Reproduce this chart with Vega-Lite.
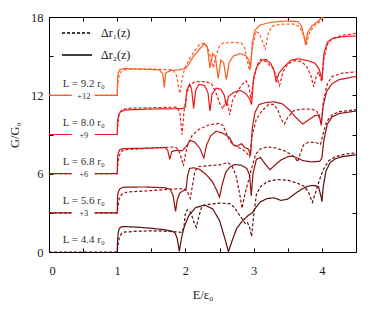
{
"$schema": "https://vega.github.io/schema/vega-lite/v6.json",
"width": 307, "height": 235,
"autosize": {"type": "none"},
"padding": {"left": 49, "top": 17, "right": 18, "bottom": 59},
"config": {
  "font": "Liberation Serif",
  "view": {"stroke": null},
  "axis": {"domainColor": "#000", "domainWidth": 1, "tickColor": "#000", "tickSize": -4, "grid": false, "labelFont": "Liberation Serif", "labelFontSize": 12.5, "labelColor": "#222", "titleFont": "Liberation Serif", "titleFontSize": 12.5, "titleFontWeight": "normal", "titleColor": "#222"}
},
"datasets": {
"curves": [
{"L":"4.4","dr":2,"seg":"b","E":1.0,"G":0},{"L":"4.4","dr":2,"seg":"b","E":1.005,"G":0.9},{"L":"4.4","dr":2,"seg":"b","E":1.015,"G":1.5},{"L":"4.4","dr":2,"seg":"b","E":1.03,"G":1.8},{"L":"4.4","dr":2,"seg":"b","E":1.06,"G":1.92},{"L":"4.4","dr":2,"seg":"b","E":1.1,"G":1.95},{"L":"4.4","dr":2,"seg":"b","E":1.3,"G":1.9},{"L":"4.4","dr":2,"seg":"b","E":1.5,"G":1.82},{"L":"4.4","dr":2,"seg":"b","E":1.7,"G":1.7},{"L":"4.4","dr":2,"seg":"b","E":1.8,"G":1.6},{"L":"4.4","dr":2,"seg":"b","E":1.85,"G":1.45},{"L":"4.4","dr":2,"seg":"b","E":1.88,"G":1.0},{"L":"4.4","dr":2,"seg":"b","E":1.91,"G":0.05},{"L":"4.4","dr":2,"seg":"b","E":1.94,"G":1.0},{"L":"4.4","dr":2,"seg":"b","E":1.98,"G":1.9},{"L":"4.4","dr":2,"seg":"b","E":2.05,"G":2.8},{"L":"4.4","dr":2,"seg":"b","E":2.15,"G":3.4},{"L":"4.4","dr":2,"seg":"b","E":2.28,"G":3.6},{"L":"4.4","dr":2,"seg":"b","E":2.4,"G":3.3},{"L":"4.4","dr":2,"seg":"b","E":2.5,"G":2.4},{"L":"4.4","dr":2,"seg":"b","E":2.58,"G":1.0},{"L":"4.4","dr":2,"seg":"b","E":2.63,"G":0.02},{"L":"4.4","dr":2,"seg":"b","E":2.68,"G":0.8},{"L":"4.4","dr":2,"seg":"b","E":2.75,"G":1.8},{"L":"4.4","dr":2,"seg":"b","E":2.83,"G":2.35},{"L":"4.4","dr":2,"seg":"b","E":2.92,"G":2.8},{"L":"4.4","dr":2,"seg":"b","E":2.98,"G":3.0},{"L":"4.4","dr":2,"seg":"b","E":3.03,"G":3.4},{"L":"4.4","dr":2,"seg":"b","E":3.1,"G":3.85},{"L":"4.4","dr":2,"seg":"b","E":3.2,"G":4.1},{"L":"4.4","dr":2,"seg":"b","E":3.3,"G":4.15},{"L":"4.4","dr":2,"seg":"b","E":3.4,"G":3.95},{"L":"4.4","dr":2,"seg":"b","E":3.5,"G":4.05},{"L":"4.4","dr":2,"seg":"b","E":3.6,"G":4.45},{"L":"4.4","dr":2,"seg":"b","E":3.7,"G":4.8},{"L":"4.4","dr":2,"seg":"b","E":3.8,"G":5.05},{"L":"4.4","dr":2,"seg":"b","E":3.88,"G":5.1},{"L":"4.4","dr":2,"seg":"b","E":3.95,"G":5.0},{"L":"4.4","dr":2,"seg":"b","E":3.99,"G":4.2},{"L":"4.4","dr":2,"seg":"b","E":4.0,"G":3.85},{"L":"4.4","dr":2,"seg":"b","E":4.02,"G":5.0},{"L":"4.4","dr":2,"seg":"b","E":4.06,"G":6.2},{"L":"4.4","dr":2,"seg":"b","E":4.12,"G":6.85},{"L":"4.4","dr":2,"seg":"b","E":4.2,"G":7.15},{"L":"4.4","dr":2,"seg":"b","E":4.3,"G":7.3},{"L":"4.4","dr":2,"seg":"b","E":4.5,"G":7.45},
{"L":"4.4","dr":1,"seg":"b","E":0,"G":0},{"L":"4.4","dr":1,"seg":"b","E":1.0,"G":0},{"L":"4.4","dr":1,"seg":"b","E":1.01,"G":0.5},{"L":"4.4","dr":1,"seg":"b","E":1.03,"G":1.1},{"L":"4.4","dr":1,"seg":"b","E":1.06,"G":1.4},{"L":"4.4","dr":1,"seg":"b","E":1.1,"G":1.52},{"L":"4.4","dr":1,"seg":"b","E":1.3,"G":1.6},{"L":"4.4","dr":1,"seg":"b","E":1.6,"G":1.62},{"L":"4.4","dr":1,"seg":"b","E":1.85,"G":1.55},{"L":"4.4","dr":1,"seg":"b","E":1.95,"G":1.5},{"L":"4.4","dr":1,"seg":"b","E":1.98,"G":2.0},{"L":"4.4","dr":1,"seg":"b","E":2.0,"G":3.0},{"L":"4.4","dr":1,"seg":"b","E":2.03,"G":3.25},{"L":"4.4","dr":1,"seg":"b","E":2.08,"G":3.0},{"L":"4.4","dr":1,"seg":"b","E":2.13,"G":2.2},{"L":"4.4","dr":1,"seg":"b","E":2.16,"G":1.9},{"L":"4.4","dr":1,"seg":"b","E":2.19,"G":2.6},{"L":"4.4","dr":1,"seg":"b","E":2.24,"G":3.5},{"L":"4.4","dr":1,"seg":"b","E":2.35,"G":3.65},{"L":"4.4","dr":1,"seg":"b","E":2.5,"G":3.75},{"L":"4.4","dr":1,"seg":"b","E":2.65,"G":3.7},{"L":"4.4","dr":1,"seg":"b","E":2.72,"G":3.4},{"L":"4.4","dr":1,"seg":"b","E":2.78,"G":2.9},{"L":"4.4","dr":1,"seg":"b","E":2.83,"G":2.55},{"L":"4.4","dr":1,"seg":"b","E":2.88,"G":2.15},{"L":"4.4","dr":1,"seg":"b","E":2.91,"G":2.25},{"L":"4.4","dr":1,"seg":"b","E":2.94,"G":1.9},{"L":"4.4","dr":1,"seg":"b","E":2.97,"G":1.2},{"L":"4.4","dr":1,"seg":"b","E":3.0,"G":2.8},{"L":"4.4","dr":1,"seg":"b","E":3.04,"G":4.4},{"L":"4.4","dr":1,"seg":"b","E":3.1,"G":5.0},{"L":"4.4","dr":1,"seg":"b","E":3.2,"G":5.4},{"L":"4.4","dr":1,"seg":"b","E":3.35,"G":5.55},{"L":"4.4","dr":1,"seg":"b","E":3.5,"G":5.5},{"L":"4.4","dr":1,"seg":"b","E":3.65,"G":5.25},{"L":"4.4","dr":1,"seg":"b","E":3.75,"G":5.0},{"L":"4.4","dr":1,"seg":"b","E":3.81,"G":4.5},{"L":"4.4","dr":1,"seg":"b","E":3.86,"G":3.8},{"L":"4.4","dr":1,"seg":"b","E":3.91,"G":4.6},{"L":"4.4","dr":1,"seg":"b","E":3.97,"G":5.6},{"L":"4.4","dr":1,"seg":"b","E":4.02,"G":6.3},{"L":"4.4","dr":1,"seg":"b","E":4.1,"G":7.0},{"L":"4.4","dr":1,"seg":"b","E":4.2,"G":7.3},{"L":"4.4","dr":1,"seg":"b","E":4.35,"G":7.5},{"L":"4.4","dr":1,"seg":"b","E":4.5,"G":7.6},
{"L":"5.6","dr":2,"seg":"a","E":0,"G":3},{"L":"5.6","dr":2,"seg":"a","E":0.33,"G":3},{"L":"5.6","dr":2,"seg":"b","E":0.67,"G":3},{"L":"5.6","dr":2,"seg":"b","E":1.0,"G":3},{"L":"5.6","dr":2,"seg":"b","E":1.005,"G":4.2},{"L":"5.6","dr":2,"seg":"b","E":1.015,"G":4.6},{"L":"5.6","dr":2,"seg":"b","E":1.04,"G":4.85},{"L":"5.6","dr":2,"seg":"b","E":1.1,"G":4.97},{"L":"5.6","dr":2,"seg":"b","E":1.4,"G":4.98},{"L":"5.6","dr":2,"seg":"b","E":1.7,"G":4.92},{"L":"5.6","dr":2,"seg":"b","E":1.78,"G":4.8},{"L":"5.6","dr":2,"seg":"b","E":1.82,"G":4.3},{"L":"5.6","dr":2,"seg":"b","E":1.855,"G":3.1},{"L":"5.6","dr":2,"seg":"b","E":1.88,"G":4.0},{"L":"5.6","dr":2,"seg":"b","E":1.92,"G":4.55},{"L":"5.6","dr":2,"seg":"b","E":1.97,"G":4.7},{"L":"5.6","dr":2,"seg":"b","E":2.01,"G":4.8},{"L":"5.6","dr":2,"seg":"b","E":2.03,"G":5.8},{"L":"5.6","dr":2,"seg":"b","E":2.06,"G":6.4},{"L":"5.6","dr":2,"seg":"b","E":2.12,"G":6.45},{"L":"5.6","dr":2,"seg":"b","E":2.2,"G":6.35},{"L":"5.6","dr":2,"seg":"b","E":2.3,"G":5.95},{"L":"5.6","dr":2,"seg":"b","E":2.4,"G":5.35},{"L":"5.6","dr":2,"seg":"b","E":2.46,"G":4.7},{"L":"5.6","dr":2,"seg":"b","E":2.5,"G":4.2},{"L":"5.6","dr":2,"seg":"b","E":2.54,"G":5.2},{"L":"5.6","dr":2,"seg":"b","E":2.59,"G":6.1},{"L":"5.6","dr":2,"seg":"b","E":2.65,"G":6.5},{"L":"5.6","dr":2,"seg":"b","E":2.72,"G":6.7},{"L":"5.6","dr":2,"seg":"b","E":2.82,"G":6.65},{"L":"5.6","dr":2,"seg":"b","E":2.9,"G":6.4},{"L":"5.6","dr":2,"seg":"b","E":2.94,"G":5.9},{"L":"5.6","dr":2,"seg":"b","E":2.965,"G":4.3},{"L":"5.6","dr":2,"seg":"b","E":2.99,"G":6.0},{"L":"5.6","dr":2,"seg":"b","E":3.04,"G":7.1},{"L":"5.6","dr":2,"seg":"b","E":3.1,"G":7.25},{"L":"5.6","dr":2,"seg":"b","E":3.16,"G":6.8},{"L":"5.6","dr":2,"seg":"b","E":3.24,"G":6.3},{"L":"5.6","dr":2,"seg":"b","E":3.3,"G":6.6},{"L":"5.6","dr":2,"seg":"b","E":3.4,"G":7.05},{"L":"5.6","dr":2,"seg":"b","E":3.5,"G":7.3},{"L":"5.6","dr":2,"seg":"b","E":3.56,"G":7.35},{"L":"5.6","dr":2,"seg":"b","E":3.64,"G":7.2},{"L":"5.6","dr":2,"seg":"b","E":3.72,"G":7.0},{"L":"5.6","dr":2,"seg":"b","E":3.85,"G":6.9},{"L":"5.6","dr":2,"seg":"b","E":3.97,"G":6.95},{"L":"5.6","dr":2,"seg":"b","E":4.0,"G":7.2},{"L":"5.6","dr":2,"seg":"b","E":4.03,"G":8.6},{"L":"5.6","dr":2,"seg":"b","E":4.08,"G":9.8},{"L":"5.6","dr":2,"seg":"b","E":4.15,"G":10.35},{"L":"5.6","dr":2,"seg":"b","E":4.25,"G":10.6},{"L":"5.6","dr":2,"seg":"b","E":4.5,"G":10.8},
{"L":"5.6","dr":1,"seg":"a","E":0,"G":3},{"L":"5.6","dr":1,"seg":"a","E":0.33,"G":3},{"L":"5.6","dr":1,"seg":"b","E":0.67,"G":3},{"L":"5.6","dr":1,"seg":"b","E":1.0,"G":3},{"L":"5.6","dr":1,"seg":"b","E":1.01,"G":3.5},{"L":"5.6","dr":1,"seg":"b","E":1.03,"G":4.1},{"L":"5.6","dr":1,"seg":"b","E":1.07,"G":4.45},{"L":"5.6","dr":1,"seg":"b","E":1.15,"G":4.6},{"L":"5.6","dr":1,"seg":"b","E":1.5,"G":4.7},{"L":"5.6","dr":1,"seg":"b","E":1.8,"G":4.82},{"L":"5.6","dr":1,"seg":"b","E":1.98,"G":4.85},{"L":"5.6","dr":1,"seg":"b","E":2.03,"G":4.6},{"L":"5.6","dr":1,"seg":"b","E":2.07,"G":4.1},{"L":"5.6","dr":1,"seg":"b","E":2.1,"G":5.0},{"L":"5.6","dr":1,"seg":"b","E":2.14,"G":6.2},{"L":"5.6","dr":1,"seg":"b","E":2.2,"G":6.55},{"L":"5.6","dr":1,"seg":"b","E":2.35,"G":6.62},{"L":"5.6","dr":1,"seg":"b","E":2.5,"G":6.68},{"L":"5.6","dr":1,"seg":"b","E":2.62,"G":6.85},{"L":"5.6","dr":1,"seg":"b","E":2.68,"G":6.6},{"L":"5.6","dr":1,"seg":"b","E":2.74,"G":5.9},{"L":"5.6","dr":1,"seg":"b","E":2.79,"G":4.6},{"L":"5.6","dr":1,"seg":"b","E":2.83,"G":3.35},{"L":"5.6","dr":1,"seg":"b","E":2.87,"G":4.4},{"L":"5.6","dr":1,"seg":"b","E":2.92,"G":5.4},{"L":"5.6","dr":1,"seg":"b","E":2.97,"G":6.4},{"L":"5.6","dr":1,"seg":"b","E":3.03,"G":7.5},{"L":"5.6","dr":1,"seg":"b","E":3.1,"G":7.9},{"L":"5.6","dr":1,"seg":"b","E":3.2,"G":8.05},{"L":"5.6","dr":1,"seg":"b","E":3.3,"G":8.0},{"L":"5.6","dr":1,"seg":"b","E":3.45,"G":7.75},{"L":"5.6","dr":1,"seg":"b","E":3.57,"G":7.4},{"L":"5.6","dr":1,"seg":"b","E":3.61,"G":7.2},{"L":"5.6","dr":1,"seg":"b","E":3.645,"G":6.9},{"L":"5.6","dr":1,"seg":"b","E":3.68,"G":7.5},{"L":"5.6","dr":1,"seg":"b","E":3.73,"G":8.2},{"L":"5.6","dr":1,"seg":"b","E":3.8,"G":8.4},{"L":"5.6","dr":1,"seg":"b","E":3.9,"G":8.4},{"L":"5.6","dr":1,"seg":"b","E":3.98,"G":8.25},{"L":"5.6","dr":1,"seg":"b","E":4.02,"G":9.1},{"L":"5.6","dr":1,"seg":"b","E":4.07,"G":10.0},{"L":"5.6","dr":1,"seg":"b","E":4.15,"G":10.5},{"L":"5.6","dr":1,"seg":"b","E":4.25,"G":10.75},{"L":"5.6","dr":1,"seg":"b","E":4.5,"G":10.9},
{"L":"6.8","dr":2,"seg":"a","E":0,"G":6},{"L":"6.8","dr":2,"seg":"a","E":0.33,"G":6},{"L":"6.8","dr":2,"seg":"b","E":0.67,"G":6},{"L":"6.8","dr":2,"seg":"b","E":1.0,"G":6},{"L":"6.8","dr":2,"seg":"b","E":1.005,"G":7.2},{"L":"6.8","dr":2,"seg":"b","E":1.015,"G":7.6},{"L":"6.8","dr":2,"seg":"b","E":1.04,"G":7.85},{"L":"6.8","dr":2,"seg":"b","E":1.1,"G":7.92},{"L":"6.8","dr":2,"seg":"b","E":1.4,"G":7.95},{"L":"6.8","dr":2,"seg":"b","E":1.7,"G":8.0},{"L":"6.8","dr":2,"seg":"b","E":1.74,"G":7.8},{"L":"6.8","dr":2,"seg":"b","E":1.77,"G":7.1},{"L":"6.8","dr":2,"seg":"b","E":1.8,"G":7.7},{"L":"6.8","dr":2,"seg":"b","E":1.88,"G":7.8},{"L":"6.8","dr":2,"seg":"b","E":1.95,"G":7.75},{"L":"6.8","dr":2,"seg":"b","E":2.0,"G":8.0},{"L":"6.8","dr":2,"seg":"b","E":2.07,"G":8.55},{"L":"6.8","dr":2,"seg":"b","E":2.14,"G":8.4},{"L":"6.8","dr":2,"seg":"b","E":2.21,"G":7.95},{"L":"6.8","dr":2,"seg":"b","E":2.27,"G":7.2},{"L":"6.8","dr":2,"seg":"b","E":2.31,"G":8.2},{"L":"6.8","dr":2,"seg":"b","E":2.37,"G":8.9},{"L":"6.8","dr":2,"seg":"b","E":2.45,"G":9.25},{"L":"6.8","dr":2,"seg":"b","E":2.55,"G":9.1},{"L":"6.8","dr":2,"seg":"b","E":2.65,"G":8.75},{"L":"6.8","dr":2,"seg":"b","E":2.7,"G":8.2},{"L":"6.8","dr":2,"seg":"b","E":2.76,"G":8.1},{"L":"6.8","dr":2,"seg":"b","E":2.82,"G":8.3},{"L":"6.8","dr":2,"seg":"b","E":2.87,"G":8.0},{"L":"6.8","dr":2,"seg":"b","E":2.92,"G":7.9},{"L":"6.8","dr":2,"seg":"b","E":2.955,"G":7.4},{"L":"6.8","dr":2,"seg":"b","E":2.98,"G":9.5},{"L":"6.8","dr":2,"seg":"b","E":3.02,"G":10.7},{"L":"6.8","dr":2,"seg":"b","E":3.08,"G":11.3},{"L":"6.8","dr":2,"seg":"b","E":3.18,"G":11.45},{"L":"6.8","dr":2,"seg":"b","E":3.3,"G":11.5},{"L":"6.8","dr":2,"seg":"b","E":3.42,"G":11.35},{"L":"6.8","dr":2,"seg":"b","E":3.52,"G":10.9},{"L":"6.8","dr":2,"seg":"b","E":3.62,"G":10.3},{"L":"6.8","dr":2,"seg":"b","E":3.72,"G":9.8},{"L":"6.8","dr":2,"seg":"b","E":3.8,"G":10.1},{"L":"6.8","dr":2,"seg":"b","E":3.9,"G":10.45},{"L":"6.8","dr":2,"seg":"b","E":3.96,"G":10.5},{"L":"6.8","dr":2,"seg":"b","E":3.99,"G":9.7},{"L":"6.8","dr":2,"seg":"b","E":4.02,"G":11.2},{"L":"6.8","dr":2,"seg":"b","E":4.07,"G":12.3},{"L":"6.8","dr":2,"seg":"b","E":4.15,"G":12.9},{"L":"6.8","dr":2,"seg":"b","E":4.25,"G":13.2},{"L":"6.8","dr":2,"seg":"b","E":4.5,"G":13.45},
{"L":"6.8","dr":1,"seg":"a","E":0,"G":6},{"L":"6.8","dr":1,"seg":"a","E":0.33,"G":6},{"L":"6.8","dr":1,"seg":"b","E":0.67,"G":6},{"L":"6.8","dr":1,"seg":"b","E":1.0,"G":6},{"L":"6.8","dr":1,"seg":"b","E":1.01,"G":6.8},{"L":"6.8","dr":1,"seg":"b","E":1.03,"G":7.4},{"L":"6.8","dr":1,"seg":"b","E":1.07,"G":7.75},{"L":"6.8","dr":1,"seg":"b","E":1.15,"G":7.85},{"L":"6.8","dr":1,"seg":"b","E":1.5,"G":7.95},{"L":"6.8","dr":1,"seg":"b","E":1.85,"G":8.05},{"L":"6.8","dr":1,"seg":"b","E":1.9,"G":7.8},{"L":"6.8","dr":1,"seg":"b","E":1.94,"G":7.2},{"L":"6.8","dr":1,"seg":"b","E":1.97,"G":6.6},{"L":"6.8","dr":1,"seg":"b","E":2.0,"G":7.5},{"L":"6.8","dr":1,"seg":"b","E":2.04,"G":8.3},{"L":"6.8","dr":1,"seg":"b","E":2.1,"G":8.95},{"L":"6.8","dr":1,"seg":"b","E":2.2,"G":9.4},{"L":"6.8","dr":1,"seg":"b","E":2.35,"G":9.75},{"L":"6.8","dr":1,"seg":"b","E":2.5,"G":9.85},{"L":"6.8","dr":1,"seg":"b","E":2.55,"G":9.7},{"L":"6.8","dr":1,"seg":"b","E":2.6,"G":9.1},{"L":"6.8","dr":1,"seg":"b","E":2.65,"G":8.5},{"L":"6.8","dr":1,"seg":"b","E":2.72,"G":8.15},{"L":"6.8","dr":1,"seg":"b","E":2.8,"G":7.95},{"L":"6.8","dr":1,"seg":"b","E":2.88,"G":7.7},{"L":"6.8","dr":1,"seg":"b","E":2.94,"G":7.3},{"L":"6.8","dr":1,"seg":"b","E":2.98,"G":9.0},{"L":"6.8","dr":1,"seg":"b","E":3.04,"G":10.2},{"L":"6.8","dr":1,"seg":"b","E":3.12,"G":10.8},{"L":"6.8","dr":1,"seg":"b","E":3.22,"G":11.3},{"L":"6.8","dr":1,"seg":"b","E":3.3,"G":11.3},{"L":"6.8","dr":1,"seg":"b","E":3.36,"G":10.8},{"L":"6.8","dr":1,"seg":"b","E":3.4,"G":10.2},{"L":"6.8","dr":1,"seg":"b","E":3.45,"G":9.8},{"L":"6.8","dr":1,"seg":"b","E":3.5,"G":10.3},{"L":"6.8","dr":1,"seg":"b","E":3.58,"G":10.8},{"L":"6.8","dr":1,"seg":"b","E":3.7,"G":10.95},{"L":"6.8","dr":1,"seg":"b","E":3.85,"G":10.95},{"L":"6.8","dr":1,"seg":"b","E":3.93,"G":10.75},{"L":"6.8","dr":1,"seg":"b","E":3.99,"G":9.9},{"L":"6.8","dr":1,"seg":"b","E":4.02,"G":11.5},{"L":"6.8","dr":1,"seg":"b","E":4.08,"G":12.9},{"L":"6.8","dr":1,"seg":"b","E":4.15,"G":13.45},{"L":"6.8","dr":1,"seg":"b","E":4.3,"G":13.7},{"L":"6.8","dr":1,"seg":"b","E":4.5,"G":13.8},
{"L":"8.0","dr":2,"seg":"a","E":0,"G":9},{"L":"8.0","dr":2,"seg":"a","E":0.33,"G":9},{"L":"8.0","dr":2,"seg":"b","E":0.67,"G":9},{"L":"8.0","dr":2,"seg":"b","E":1.0,"G":9},{"L":"8.0","dr":2,"seg":"b","E":1.005,"G":10.0},{"L":"8.0","dr":2,"seg":"b","E":1.02,"G":10.5},{"L":"8.0","dr":2,"seg":"b","E":1.05,"G":10.75},{"L":"8.0","dr":2,"seg":"b","E":1.12,"G":10.88},{"L":"8.0","dr":2,"seg":"b","E":1.5,"G":10.95},{"L":"8.0","dr":2,"seg":"b","E":1.95,"G":10.98},{"L":"8.0","dr":2,"seg":"b","E":2.0,"G":11.1},{"L":"8.0","dr":2,"seg":"b","E":2.02,"G":12.4},{"L":"8.0","dr":2,"seg":"b","E":2.06,"G":12.85},{"L":"8.0","dr":2,"seg":"b","E":2.09,"G":12.5},{"L":"8.0","dr":2,"seg":"b","E":2.12,"G":11.0},{"L":"8.0","dr":2,"seg":"b","E":2.15,"G":12.4},{"L":"8.0","dr":2,"seg":"b","E":2.2,"G":12.85},{"L":"8.0","dr":2,"seg":"b","E":2.28,"G":12.75},{"L":"8.0","dr":2,"seg":"b","E":2.33,"G":12.2},{"L":"8.0","dr":2,"seg":"b","E":2.36,"G":10.8},{"L":"8.0","dr":2,"seg":"b","E":2.39,"G":12.1},{"L":"8.0","dr":2,"seg":"b","E":2.45,"G":12.55},{"L":"8.0","dr":2,"seg":"b","E":2.52,"G":12.45},{"L":"8.0","dr":2,"seg":"b","E":2.57,"G":12.0},{"L":"8.0","dr":2,"seg":"b","E":2.6,"G":11.2},{"L":"8.0","dr":2,"seg":"b","E":2.63,"G":11.9},{"L":"8.0","dr":2,"seg":"b","E":2.7,"G":12.2},{"L":"8.0","dr":2,"seg":"b","E":2.8,"G":12.4},{"L":"8.0","dr":2,"seg":"b","E":2.88,"G":12.15},{"L":"8.0","dr":2,"seg":"b","E":2.94,"G":11.75},{"L":"8.0","dr":2,"seg":"b","E":2.97,"G":11.3},{"L":"8.0","dr":2,"seg":"b","E":3.0,"G":13.4},{"L":"8.0","dr":2,"seg":"b","E":3.05,"G":14.2},{"L":"8.0","dr":2,"seg":"b","E":3.12,"G":14.7},{"L":"8.0","dr":2,"seg":"b","E":3.18,"G":14.75},{"L":"8.0","dr":2,"seg":"b","E":3.25,"G":14.45},{"L":"8.0","dr":2,"seg":"b","E":3.3,"G":13.9},{"L":"8.0","dr":2,"seg":"b","E":3.33,"G":13.0},{"L":"8.0","dr":2,"seg":"b","E":3.37,"G":13.7},{"L":"8.0","dr":2,"seg":"b","E":3.45,"G":14.2},{"L":"8.0","dr":2,"seg":"b","E":3.55,"G":14.7},{"L":"8.0","dr":2,"seg":"b","E":3.65,"G":14.8},{"L":"8.0","dr":2,"seg":"b","E":3.8,"G":14.65},{"L":"8.0","dr":2,"seg":"b","E":3.9,"G":14.45},{"L":"8.0","dr":2,"seg":"b","E":3.96,"G":14.0},{"L":"8.0","dr":2,"seg":"b","E":4.0,"G":13.2},{"L":"8.0","dr":2,"seg":"b","E":4.03,"G":15.2},{"L":"8.0","dr":2,"seg":"b","E":4.08,"G":16.05},{"L":"8.0","dr":2,"seg":"b","E":4.15,"G":16.35},{"L":"8.0","dr":2,"seg":"b","E":4.3,"G":16.5},{"L":"8.0","dr":2,"seg":"b","E":4.5,"G":16.55},
{"L":"8.0","dr":1,"seg":"a","E":0,"G":9},{"L":"8.0","dr":1,"seg":"a","E":0.33,"G":9},{"L":"8.0","dr":1,"seg":"b","E":0.67,"G":9},{"L":"8.0","dr":1,"seg":"b","E":1.0,"G":9},{"L":"8.0","dr":1,"seg":"b","E":1.01,"G":9.8},{"L":"8.0","dr":1,"seg":"b","E":1.03,"G":10.6},{"L":"8.0","dr":1,"seg":"b","E":1.07,"G":10.9},{"L":"8.0","dr":1,"seg":"b","E":1.15,"G":11.0},{"L":"8.0","dr":1,"seg":"b","E":1.5,"G":11.05},{"L":"8.0","dr":1,"seg":"b","E":1.88,"G":11.1},{"L":"8.0","dr":1,"seg":"b","E":1.92,"G":10.6},{"L":"8.0","dr":1,"seg":"b","E":1.95,"G":9.0},{"L":"8.0","dr":1,"seg":"b","E":1.98,"G":10.8},{"L":"8.0","dr":1,"seg":"b","E":2.02,"G":12.2},{"L":"8.0","dr":1,"seg":"b","E":2.07,"G":12.85},{"L":"8.0","dr":1,"seg":"b","E":2.15,"G":13.05},{"L":"8.0","dr":1,"seg":"b","E":2.3,"G":13.05},{"L":"8.0","dr":1,"seg":"b","E":2.38,"G":12.9},{"L":"8.0","dr":1,"seg":"b","E":2.44,"G":12.3},{"L":"8.0","dr":1,"seg":"b","E":2.5,"G":11.4},{"L":"8.0","dr":1,"seg":"b","E":2.55,"G":10.95},{"L":"8.0","dr":1,"seg":"b","E":2.59,"G":11.6},{"L":"8.0","dr":1,"seg":"b","E":2.62,"G":11.3},{"L":"8.0","dr":1,"seg":"b","E":2.65,"G":10.5},{"L":"8.0","dr":1,"seg":"b","E":2.69,"G":11.6},{"L":"8.0","dr":1,"seg":"b","E":2.76,"G":12.3},{"L":"8.0","dr":1,"seg":"b","E":2.84,"G":12.9},{"L":"8.0","dr":1,"seg":"b","E":2.89,"G":13.1},{"L":"8.0","dr":1,"seg":"b","E":2.93,"G":12.7},{"L":"8.0","dr":1,"seg":"b","E":2.96,"G":11.7},{"L":"8.0","dr":1,"seg":"b","E":3.0,"G":13.2},{"L":"8.0","dr":1,"seg":"b","E":3.05,"G":14.3},{"L":"8.0","dr":1,"seg":"b","E":3.1,"G":14.75},{"L":"8.0","dr":1,"seg":"b","E":3.18,"G":14.6},{"L":"8.0","dr":1,"seg":"b","E":3.28,"G":14.1},{"L":"8.0","dr":1,"seg":"b","E":3.34,"G":13.4},{"L":"8.0","dr":1,"seg":"b","E":3.38,"G":12.75},{"L":"8.0","dr":1,"seg":"b","E":3.43,"G":13.8},{"L":"8.0","dr":1,"seg":"b","E":3.5,"G":14.4},{"L":"8.0","dr":1,"seg":"b","E":3.6,"G":14.65},{"L":"8.0","dr":1,"seg":"b","E":3.7,"G":14.6},{"L":"8.0","dr":1,"seg":"b","E":3.78,"G":14.2},{"L":"8.0","dr":1,"seg":"b","E":3.84,"G":13.5},{"L":"8.0","dr":1,"seg":"b","E":3.88,"G":12.65},{"L":"8.0","dr":1,"seg":"b","E":3.92,"G":13.5},{"L":"8.0","dr":1,"seg":"b","E":3.95,"G":13.8},{"L":"8.0","dr":1,"seg":"b","E":3.98,"G":13.3},{"L":"8.0","dr":1,"seg":"b","E":4.0,"G":13.05},{"L":"8.0","dr":1,"seg":"b","E":4.03,"G":14.8},{"L":"8.0","dr":1,"seg":"b","E":4.08,"G":15.9},{"L":"8.0","dr":1,"seg":"b","E":4.15,"G":16.35},{"L":"8.0","dr":1,"seg":"b","E":4.3,"G":16.6},{"L":"8.0","dr":1,"seg":"b","E":4.5,"G":16.75},
{"L":"9.2","dr":2,"seg":"a","E":0,"G":12},{"L":"9.2","dr":2,"seg":"a","E":0.33,"G":12},{"L":"9.2","dr":2,"seg":"b","E":0.67,"G":12},{"L":"9.2","dr":2,"seg":"b","E":1.0,"G":12},{"L":"9.2","dr":2,"seg":"b","E":1.005,"G":13.2},{"L":"9.2","dr":2,"seg":"b","E":1.015,"G":13.75},{"L":"9.2","dr":2,"seg":"b","E":1.04,"G":13.98},{"L":"9.2","dr":2,"seg":"b","E":1.1,"G":14.05},{"L":"9.2","dr":2,"seg":"b","E":1.4,"G":14.0},{"L":"9.2","dr":2,"seg":"b","E":1.62,"G":13.95},{"L":"9.2","dr":2,"seg":"b","E":1.67,"G":13.6},{"L":"9.2","dr":2,"seg":"b","E":1.69,"G":12.6},{"L":"9.2","dr":2,"seg":"b","E":1.71,"G":13.7},{"L":"9.2","dr":2,"seg":"b","E":1.78,"G":13.9},{"L":"9.2","dr":2,"seg":"b","E":1.9,"G":13.95},{"L":"9.2","dr":2,"seg":"b","E":2.0,"G":14.05},{"L":"9.2","dr":2,"seg":"b","E":2.05,"G":14.4},{"L":"9.2","dr":2,"seg":"b","E":2.12,"G":15.0},{"L":"9.2","dr":2,"seg":"b","E":2.2,"G":15.5},{"L":"9.2","dr":2,"seg":"b","E":2.28,"G":15.95},{"L":"9.2","dr":2,"seg":"b","E":2.32,"G":15.7},{"L":"9.2","dr":2,"seg":"b","E":2.36,"G":14.1},{"L":"9.2","dr":2,"seg":"b","E":2.4,"G":15.2},{"L":"9.2","dr":2,"seg":"b","E":2.44,"G":14.9},{"L":"9.2","dr":2,"seg":"b","E":2.48,"G":13.3},{"L":"9.2","dr":2,"seg":"b","E":2.52,"G":14.7},{"L":"9.2","dr":2,"seg":"b","E":2.56,"G":14.5},{"L":"9.2","dr":2,"seg":"b","E":2.6,"G":13.2},{"L":"9.2","dr":2,"seg":"b","E":2.64,"G":14.5},{"L":"9.2","dr":2,"seg":"b","E":2.7,"G":15.0},{"L":"9.2","dr":2,"seg":"b","E":2.8,"G":15.2},{"L":"9.2","dr":2,"seg":"b","E":2.88,"G":15.05},{"L":"9.2","dr":2,"seg":"b","E":2.93,"G":14.7},{"L":"9.2","dr":2,"seg":"b","E":2.955,"G":14.1},{"L":"9.2","dr":2,"seg":"b","E":2.98,"G":16.0},{"L":"9.2","dr":2,"seg":"b","E":3.02,"G":17.0},{"L":"9.2","dr":2,"seg":"b","E":3.1,"G":17.4},{"L":"9.2","dr":2,"seg":"b","E":3.25,"G":17.6},{"L":"9.2","dr":2,"seg":"b","E":3.5,"G":17.7},{"L":"9.2","dr":2,"seg":"b","E":3.65,"G":17.65},{"L":"9.2","dr":2,"seg":"b","E":3.7,"G":17.3},{"L":"9.2","dr":2,"seg":"b","E":3.74,"G":16.5},{"L":"9.2","dr":2,"seg":"b","E":3.76,"G":15.9},{"L":"9.2","dr":2,"seg":"b","E":3.79,"G":16.8},{"L":"9.2","dr":2,"seg":"b","E":3.85,"G":17.3},{"L":"9.2","dr":2,"seg":"b","E":3.95,"G":17.7},{"L":"9.2","dr":2,"seg":"b","E":4.02,"G":18.1},{"L":"9.2","dr":2,"seg":"b","E":4.1,"G":18.5},{"L":"9.2","dr":2,"seg":"b","E":4.5,"G":18.8},
{"L":"9.2","dr":1,"seg":"a","E":0,"G":12},{"L":"9.2","dr":1,"seg":"a","E":0.33,"G":12},{"L":"9.2","dr":1,"seg":"b","E":0.67,"G":12},{"L":"9.2","dr":1,"seg":"b","E":1.0,"G":12},{"L":"9.2","dr":1,"seg":"b","E":1.01,"G":13.0},{"L":"9.2","dr":1,"seg":"b","E":1.03,"G":13.6},{"L":"9.2","dr":1,"seg":"b","E":1.07,"G":13.9},{"L":"9.2","dr":1,"seg":"b","E":1.15,"G":14.0},{"L":"9.2","dr":1,"seg":"b","E":1.5,"G":14.02},{"L":"9.2","dr":1,"seg":"b","E":1.82,"G":13.95},{"L":"9.2","dr":1,"seg":"b","E":1.87,"G":13.5},{"L":"9.2","dr":1,"seg":"b","E":1.9,"G":12.6},{"L":"9.2","dr":1,"seg":"b","E":1.92,"G":12.15},{"L":"9.2","dr":1,"seg":"b","E":1.95,"G":13.2},{"L":"9.2","dr":1,"seg":"b","E":1.99,"G":14.1},{"L":"9.2","dr":1,"seg":"b","E":2.05,"G":14.7},{"L":"9.2","dr":1,"seg":"b","E":2.12,"G":15.3},{"L":"9.2","dr":1,"seg":"b","E":2.2,"G":15.85},{"L":"9.2","dr":1,"seg":"b","E":2.28,"G":16.0},{"L":"9.2","dr":1,"seg":"b","E":2.33,"G":15.6},{"L":"9.2","dr":1,"seg":"b","E":2.37,"G":14.9},{"L":"9.2","dr":1,"seg":"b","E":2.41,"G":14.1},{"L":"9.2","dr":1,"seg":"b","E":2.45,"G":15.1},{"L":"9.2","dr":1,"seg":"b","E":2.5,"G":15.8},{"L":"9.2","dr":1,"seg":"b","E":2.55,"G":16.0},{"L":"9.2","dr":1,"seg":"b","E":2.7,"G":16.05},{"L":"9.2","dr":1,"seg":"b","E":2.82,"G":16.0},{"L":"9.2","dr":1,"seg":"b","E":2.87,"G":15.6},{"L":"9.2","dr":1,"seg":"b","E":2.91,"G":14.6},{"L":"9.2","dr":1,"seg":"b","E":2.94,"G":13.9},{"L":"9.2","dr":1,"seg":"b","E":2.98,"G":15.6},{"L":"9.2","dr":1,"seg":"b","E":3.03,"G":16.9},{"L":"9.2","dr":1,"seg":"b","E":3.08,"G":16.75},{"L":"9.2","dr":1,"seg":"b","E":3.14,"G":16.0},{"L":"9.2","dr":1,"seg":"b","E":3.17,"G":15.5},{"L":"9.2","dr":1,"seg":"b","E":3.21,"G":16.7},{"L":"9.2","dr":1,"seg":"b","E":3.27,"G":17.3},{"L":"9.2","dr":1,"seg":"b","E":3.4,"G":17.45},{"L":"9.2","dr":1,"seg":"b","E":3.6,"G":17.45},{"L":"9.2","dr":1,"seg":"b","E":3.68,"G":17.2},{"L":"9.2","dr":1,"seg":"b","E":3.73,"G":16.6},{"L":"9.2","dr":1,"seg":"b","E":3.77,"G":15.8},{"L":"9.2","dr":1,"seg":"b","E":3.81,"G":16.7},{"L":"9.2","dr":1,"seg":"b","E":3.88,"G":17.3},{"L":"9.2","dr":1,"seg":"b","E":3.97,"G":17.65},{"L":"9.2","dr":1,"seg":"b","E":4.05,"G":18.2},{"L":"9.2","dr":1,"seg":"b","E":4.15,"G":18.6},{"L":"9.2","dr":1,"seg":"b","E":4.5,"G":18.9}
],
"labels": [
{"E":0.51,"G":12.9,"text":"L = 9.2 r₀"},{"E":0.51,"G":9.9,"text":"L = 8.0 r₀"},{"E":0.51,"G":6.9,"text":"L = 6.8 r₀"},{"E":0.51,"G":3.9,"text":"L = 5.6 r₀"},{"E":0.51,"G":0.9,"text":"L = 4.4 r₀"}
],
"offsets": [
{"E":0.51,"G":11.95,"text":"+12"},{"E":0.51,"G":8.95,"text":"+9"},{"E":0.51,"G":5.95,"text":"+6"},{"E":0.51,"G":2.95,"text":"+3"}
]
},
"layer": [
{
  "data": {"name": "curves"},
  "mark": {"type": "line", "clip": true, "strokeWidth": 1.2},
  "encoding": {
    "x": {"field": "E", "type": "quantitative", "scale": {"domain": [0, 4.5], "nice": false},
      "axis": {"orient": "bottom", "values": [0,0.5,1,1.5,2,2.5,3,3.5,4], "labelExpr": "datum.value % 1 === 0 ? format(datum.value, 'd') : ''", "labelPadding": 16, "title": "E/ε₀", "titlePadding": 12}},
    "y": {"field": "G", "type": "quantitative", "scale": {"domain": [0, 18], "nice": false, "zero": true},
      "axis": {"orient": "left", "values": [0,3,6,9,12,15,18], "labelExpr": "datum.value % 6 === 0 ? format(datum.value, 'd') : ''", "labelPadding": 10, "title": "G/G₀", "titlePadding": 9}},
    "color": {"field": "L", "type": "nominal", "scale": {"domain": ["4.4","5.6","6.8","8.0","9.2"], "range": ["#5c0d0d","#8e1111","#c21717","#ec1a1a","#ff5a1f"]}, "legend": null},
    "strokeDash": {"field": "dr", "type": "nominal", "scale": {"domain": [1, 2], "range": [[3, 2], [1, 0]]},
      "legend": {"orient": "none", "legendX": 12, "legendY": 0, "title": null, "symbolType": "stroke", "symbolSize": 900, "symbolStrokeWidth": 1.3, "symbolStrokeColor": "#000", "labelFontSize": 12, "labelFont": "Liberation Serif", "labelColor": "#111", "labelOffset": 8, "labelExpr": "datum.value == 1 ? 'Δr₁(z)' : 'Δr₂(z)'", "rowPadding": -13}},
    "detail": {"field": "seg"}
  }
},
{
  "data": {"name": "labels"},
  "mark": {"type": "text", "fontSize": 11, "font": "Liberation Serif", "color": "#333", "baseline": "middle", "align": "center"},
  "encoding": {
    "x": {"field": "E", "type": "quantitative", "axis": null},
    "y": {"field": "G", "type": "quantitative", "axis": null},
    "text": {"field": "text"}
  }
},
{
  "data": {"name": "offsets"},
  "mark": {"type": "text", "fontSize": 8.5, "font": "Liberation Serif", "color": "#333", "baseline": "middle", "align": "center"},
  "encoding": {
    "x": {"field": "E", "type": "quantitative", "axis": {"orient": "top", "values": [0,0.5,1,1.5,2,2.5,3,3.5,4], "labels": false, "title": null}},
    "y": {"field": "G", "type": "quantitative", "axis": {"orient": "right", "values": [0,3,6,9,12,15,18], "labels": false, "title": null}},
    "text": {"field": "text"}
  }
}
],
"resolve": {"axis": {"x": "independent", "y": "independent"}}
}
